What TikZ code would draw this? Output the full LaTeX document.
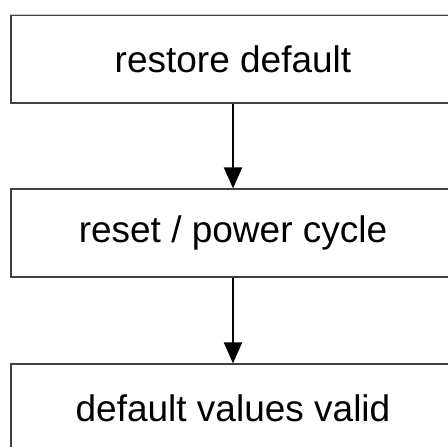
\documentclass[tikz,border=0pt]{standalone}
\usepackage{fontspec}
\setmainfont{Liberation Sans}
\usetikzlibrary{arrows.meta, positioning}
\definecolor{boxline}{RGB}{64, 64, 64}
\definecolor{topline}{RGB}{200, 200, 200}

\begin{document}
\begin{tikzpicture}[x=1pt, y=1pt,
  stepbox/.style={draw=boxline, line width=1.2pt, minimum width=444pt, minimum height=88pt, inner sep=0pt, font=\fontsize{37}{44}\selectfont},
  flow/.style={-{Triangle[length=21pt, width=18pt]}, line width=2pt}]
  \useasboundingbox (0,0) rectangle (448,-447);
  \clip (0,0) rectangle (448,-447);

  % Restore default
  \node[stepbox] (restore) at (233,-59) {restore default};
  \draw[topline, line width=1.2pt] (restore.north west) -- (restore.north east);

  % Reset / power cycle
  \node[stepbox] (reset) at (233,-233) {reset / power cycle};
  \draw[flow] (restore.south) -- (reset.north);

  % Defaults valid
  \node[stepbox] (valid) at (233,-408) {default values valid};
  \draw[flow] (reset.south) -- (valid.north);
\end{tikzpicture}
\end{document}
